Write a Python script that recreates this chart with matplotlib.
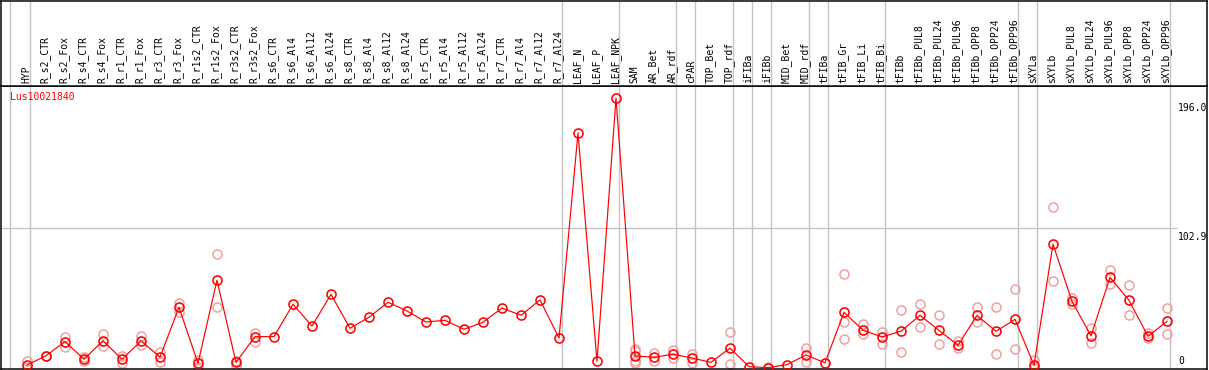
import matplotlib
matplotlib.use('Agg')
import matplotlib.pyplot as plt
import numpy as np

gene = "Lus10021840"

samples = ["HYP", "R_s2_CTR", "R_s2_Fox", "R_s4_CTR", "R_s4_Fox", "R_r1_CTR", "R_r1_Fox",
           "R_r3_CTR", "R_r3_Fox", "R_r1s2_CTR", "R_r1s2_Fox", "R_r3s2_CTR", "R_r3s2_Fox",
           "R_s6_CTR", "R_s6_Al4", "R_s6_Al12", "R_s6_Al24", "R_s8_CTR", "R_s8_Al4",
           "R_s8_Al12", "R_s8_Al24", "R_r5_CTR", "R_r5_Al4", "R_r5_Al12", "R_r5_Al24",
           "R_r7_CTR", "R_r7_Al4", "R_r7_Al12", "R_r7_Al24", "LEAF_N", "LEAF_P", "LEAF_NPK",
           "SAM", "AR_Bet", "AR_rdf", "cPAR", "TOP_Bet", "TOP_rdf", "iFIBa", "iFIBb",
           "MID_Bet", "MID_rdf", "tFIBa", "tFIB_Gr", "tFIB_Li", "tFIB_Bi", "tFIBb",
           "tFIBb_PUL8", "tFIBb_PUL24", "tFIBb_PUL96", "tFIBb_OPP8", "tFIBb_OPP24",
           "tFIBb_OPP96", "sXYLa", "sXYLb", "sXYLb_PUL8", "sXYLb_PUL24", "sXYLb_PUL96",
           "sXYLb_OPP8", "sXYLb_OPP24", "sXYLb_OPP96"]

means = [4.8, 11.4, 21.6, 8.9, 22.2, 8.9, 22.0, 10.5, 46.1, 6.0, 65.5, 6.7, 25.1,
         25.1, 48.3, 32.7, 55.4, 31.1, 39.0, 49.7, 43.5, 35.6, 36.8, 30.4, 35.4,
         45.6, 40.4, 51.4, 24.1, 171.0, 7.4, 196.0,
         11.3, 10.3, 12.5, 9.8, 6.7, 16.9, 3.6, 2.9, 5.0, 12.0, 6.3,
         42.5, 29.7, 24.9, 29.0, 40.4, 29.6, 18.9, 40.4, 28.9, 37.5,
         4.6, 91.3, 50.4, 25.6, 67.6, 51.1, 25.4, 36.1]

replicates = [[7.9, 3.6], [11.2, 11.6], [25.1, 17.9], [10.5, 7.5], [27.0, 18.2],
              [11.5, 6.0], [25.5, 19.0], [14.3, 6.7], [49.4, 42.8], [8.4, 3.6],
              [84.3, 46.1], [7.9, 4.8], [27.5, 21.3],
              [], [], [], [], [], [], [], [], [], [], [], [], [], [], [], [],
              [], [], [],
              [16.0, 14.5, 7.9, 6.4], [13.2, 8.0], [15.2, 9.8], [12.5, 6.4], [],
              [28.2, 5.5], [], [3.4], [], [16.8, 6.9], [],
              [70.0, 35.6, 23.2], [34.2, 26.8], [28.7, 20.1], [44.2, 13.9],
              [48.3, 31.8], [40.6, 19.8], [22.2, 16.8], [46.3, 35.4], [46.3, 12.7],
              [59.2, 16.0],
              [8.4, 3.2], [117.8, 64.8], [52.6, 48.5], [31.5, 20.3], [72.9, 62.6],
              [61.9, 40.6], [27.5, 24.0], [45.4, 26.8]]

# vertical separators: drawn just after these column indices
group_ends = [-1, 0, 28, 31, 34, 35, 37, 38, 39, 41, 42, 45, 52, 53, 60]

ytick_vals = [196.0, 102.9, 0]
ytick_labels = ["196.0", "102.9", "0"]

# ---------------------------------------------------------------- layout
W, H, DPI = 1209, 370, 100
PX = 72.0 / DPI  # points per pixel
fig = plt.figure(figsize=(W / DPI, H / DPI), dpi=DPI)
fig.patch.set_facecolor("white")


def px_axes(x0, y0, x1, y1):
    return fig.add_axes([x0 / W, 1 - y1 / H, (x1 - x0) / W, (y1 - y0) / H])


ax = px_axes(1, 86, 1207, 369)
hx = px_axes(1, 0.5, 1207, 86)

n = len(samples)
x = np.arange(n)
xlim = (-1.368, 62.105)
ylim = (1.93, 204.66)
grid_c = "#c4c4c4"
mono = "DejaVu Sans Mono"
fs = 7

for a in (ax, hx):
    a.set_xlim(*xlim)
    a.set_xticks([])
    a.set_yticks([])
    for s in a.spines.values():
        s.set_linewidth(1.5 * PX)
        s.set_color("black")
    for g in group_ends:
        xpos = g + 0.18 if g >= 0 else g + 0.1
        a.axvline(xpos, color=grid_c, lw=1.4 * PX, zorder=0)

ax.set_ylim(*ylim)
hx.set_ylim(0, 1)

# horizontal mid grid line
ax.plot([xlim[0], 60.5], [ytick_vals[1], ytick_vals[1]], color=grid_c,
        lw=1.4 * PX, zorder=0, solid_capstyle="butt")

# header labels
for xi, lab in zip(x, samples):
    hx.text(xi - 0.05, 0.03, lab, rotation=90, ha="center", va="bottom",
            fontsize=fs, family=mono, color="black")

# replicate points
rx, ry = [], []
for xi, reps in zip(x, replicates):
    for r in reps:
        rx.append(xi)
        ry.append(r)
ax.plot(rx, ry, linestyle="none", marker="o", markersize=6.5,
        markerfacecolor="none", markeredgecolor="#f0a0a0",
        markeredgewidth=1.4 * PX * 1.1, zorder=2)

# mean line
ax.plot(x, means, color="red", lw=1.2 * PX, zorder=3,
        marker="o", markersize=6.5, markerfacecolor="none",
        markeredgecolor="red", markeredgewidth=1.6 * PX)

# gene name
ax.text(9 / 1206, (369 - 97) / 283, gene, transform=ax.transAxes, ha="left",
        va="center", fontsize=fs, family=mono, color="red")

# y labels at right
offsets = [(-5, "top"), (-9, "bottom"), (3, "bottom")]
for v, lab, (off, va) in zip(ytick_vals, ytick_labels, offsets):
    ax.annotate(lab, xy=(1177 / 1206, max(v, ylim[0])),
                xycoords=("axes fraction", "data"),
                xytext=(0, off), textcoords="offset pixels",
                ha="left", va=va if lab != "102.9" else "center",
                fontsize=fs, family=mono, color="black",
                annotation_clip=False, clip_on=True)

fig.savefig("out.png", dpi=DPI, facecolor="white")
